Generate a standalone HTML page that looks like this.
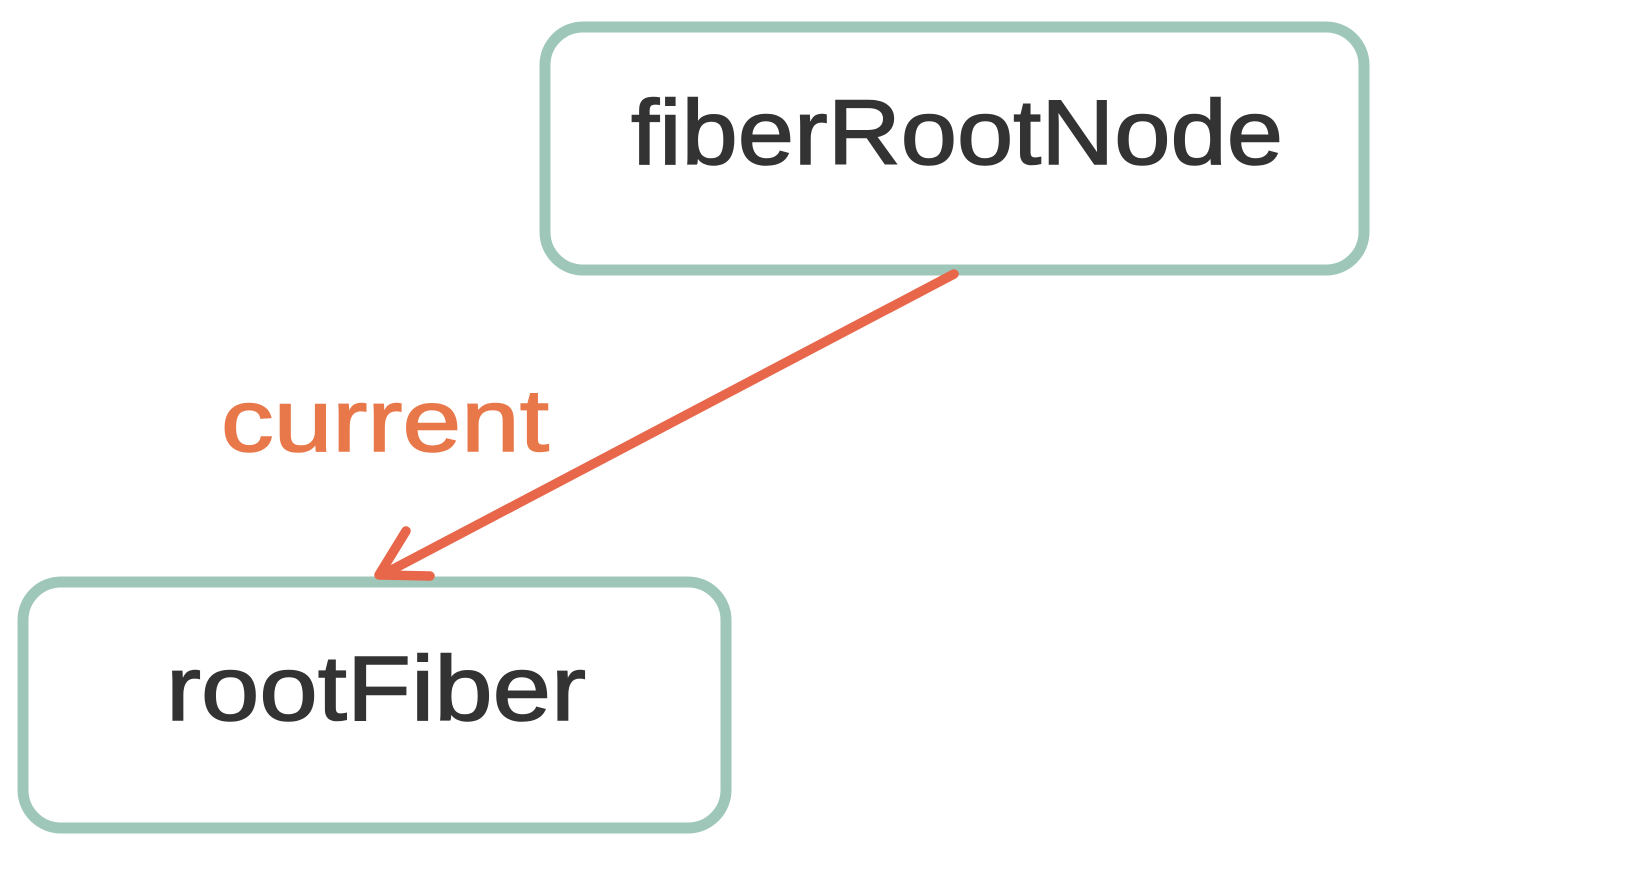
<!DOCTYPE html>
<html><head><meta charset="utf-8"><style>html,body{margin:0;padding:0;background:#fff;}svg{display:block}</style></head>
<body>
<svg width="1642" height="870" viewBox="0 0 1642 870" xmlns="http://www.w3.org/2000/svg">
<rect x="545" y="27" width="819" height="243" rx="38" fill="#fff" stroke="#9fc7b9" stroke-width="11"/>
<rect x="23" y="582" width="703" height="246" rx="38" fill="#fff" stroke="#9fc7b9" stroke-width="11"/>
<g font-family="Liberation Sans, sans-serif" stroke-width="1.5">
<text x="631" y="164" fill="#333" stroke="#333" font-size="92" textLength="652" lengthAdjust="spacingAndGlyphs">fiberRootNode</text>
<text x="166" y="720" fill="#333" stroke="#333" font-size="92" textLength="420" lengthAdjust="spacingAndGlyphs">rootFiber</text>
<text x="221" y="451" fill="#e8784a" stroke="#e8784a" font-size="88" textLength="328" lengthAdjust="spacingAndGlyphs">current</text>
</g>
<g stroke="#e8664a" stroke-width="9.5" stroke-linecap="round" stroke-linejoin="round" fill="none">
<line x1="954" y1="274" x2="382" y2="575"/>
<polyline points="406,531 379,575 430,576"/>
</g>
</svg>
</body></html>
